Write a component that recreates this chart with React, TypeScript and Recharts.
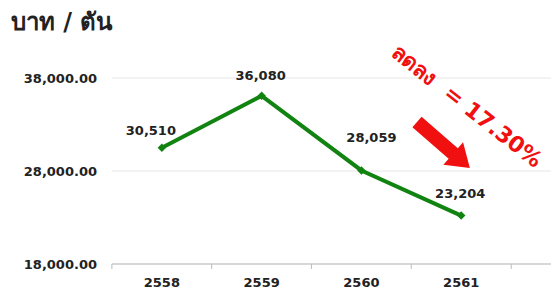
import { LineChart, Line, XAxis, YAxis, CartesianGrid, LabelList } from 'recharts';

const years = [2558, 2559, 2560, 2561];
const prices = [30510, 36080, 28059, 23204];
const yTicks = [18000, 28000, 38000];
const title = 'บาท / ตัน';
const note = 'ลดลง  = 17.30%';

const data = years.map((year, i) => ({ year, price: prices[i] }));

// nudges for the value labels, [dx, dy] from each point
const labelNudge: [number, number][] = [
  [-11, -13],
  [-1, -16],
  [10, -28],
  [-1, -18],
];

const FONT = "Tahoma, 'DejaVu Sans', 'Noto Sans', sans-serif";
const GREEN = '#118311';
const HALF_BAND = 50;

function YearTick(props: any) {
  const { x, y, payload, index, visibleTicksCount } = props;
  const axisY = y - 8;
  const last = index === visibleTicksCount - 1;
  return (
    <g>
      <line x1={x - HALF_BAND} x2={x - HALF_BAND} y1={axisY} y2={axisY + 5} stroke="#bbb" />
      {last && <line x1={x + HALF_BAND} x2={x + HALF_BAND} y1={axisY} y2={axisY + 5} stroke="#bbb" />}
      <text x={x} y={axisY + 23} textAnchor="middle" fontFamily={FONT} fontWeight="bold" fontSize={13} fill="#222">
        {payload.value}
      </text>
    </g>
  );
}

function ValueLabel(props: any) {
  const { x, y, value, index } = props;
  const [dx, dy] = labelNudge[index] || [0, -12];
  return (
    <text x={x + dx} y={y + dy} textAnchor="middle" fontFamily={FONT} fontWeight="bold" fontSize={13} fill="#222">
      {Number(value).toLocaleString('en-US')}
    </text>
  );
}

function Diamond(props: any) {
  const { cx, cy } = props;
  return <rect x={cx - 3} y={cy - 3} width={6} height={6} fill={GREEN} transform={`rotate(45 ${cx} ${cy})`} />;
}

export default function App() {
  return (
    <div style={{ position: 'absolute', left: 0, top: 0, width: 551, height: 297, background: '#fff', overflow: 'hidden' }}>
      <div style={{ position: 'absolute', left: 11, top: 2, fontFamily: FONT, fontWeight: 900, fontSize: 24, color: '#222' }}>
        {title}
      </div>
      <LineChart width={551} height={297} data={data} margin={{ top: 78, right: 0, bottom: 3, left: 12 }}>
        <CartesianGrid horizontal vertical={false} stroke="#e6e6e6" />
        <XAxis
          dataKey="year"
          type="number"
          domain={[2557.5, 2561.9]}
          ticks={years}
          axisLine={{ stroke: '#bbb' }}
          tickLine={false}
          tick={<YearTick />}
          interval={0}
        />
        <YAxis
          domain={[18000, 38000]}
          ticks={yTicks}
          width={100}
          axisLine={false}
          tickLine={false}
          tickMargin={9}
          tickFormatter={(v: number) => v.toLocaleString('en-US', { minimumFractionDigits: 2 })}
          tick={{ fontFamily: FONT, fontWeight: 'bold', fontSize: 13, fill: '#222' }}
        />
        <Line
          dataKey="price"
          stroke={GREEN}
          strokeWidth={4}
          dot={<Diamond />}
          activeDot={false}
          isAnimationActive={false}
        >
          <LabelList dataKey="price" content={<ValueLabel />} />
        </Line>
      </LineChart>
      <div
        style={{
          position: 'absolute',
          left: 467,
          top: 106,
          transform: 'translate(-50%, -50%) rotate(38deg)',
          whiteSpace: 'pre',
          fontFamily: FONT,
          fontWeight: 'bold',
          fontSize: 22,
          color: '#f01010',
        }}
      >
        {note}
      </div>
      <svg width={551} height={297} style={{ position: 'absolute', left: 0, top: 0, pointerEvents: 'none' }}>
        <g transform="translate(417 122) rotate(41)">
          <polygon points="0,-7 48,-7 48,-15 70,0 48,15 48,7 0,7" fill="#f01010" />
        </g>
      </svg>
    </div>
  );
}
